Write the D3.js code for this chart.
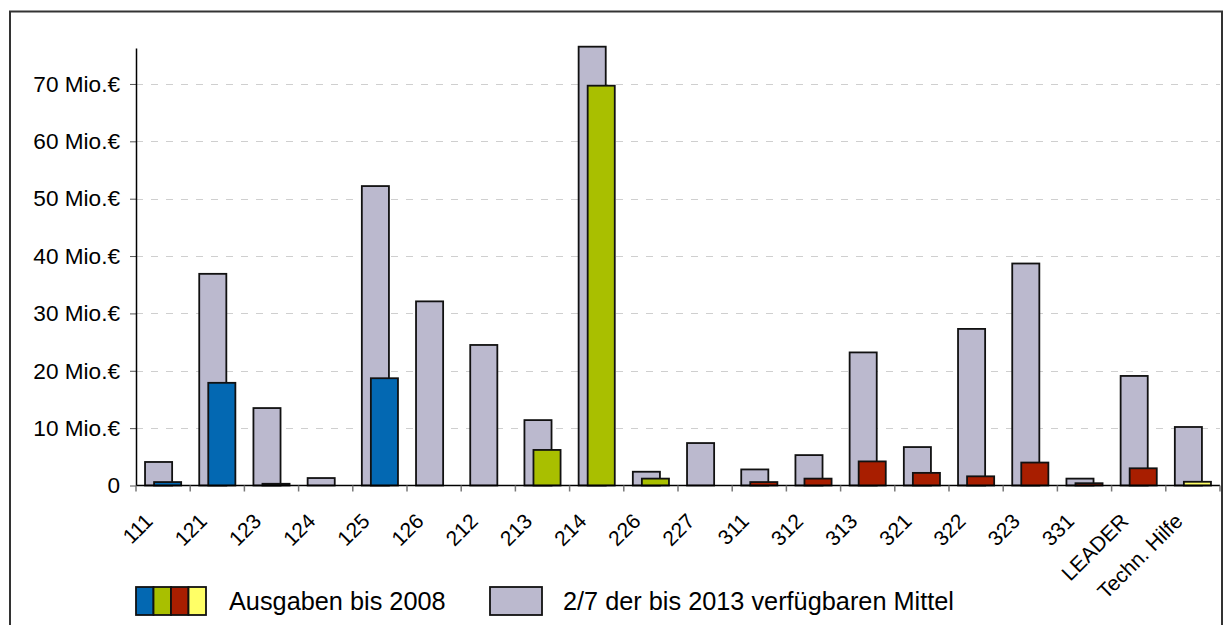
<!DOCTYPE html>
<html>
<head>
<meta charset="utf-8">
<script src="https://cdn.jsdelivr.net/npm/d3@7"></script>
<style>
  html, body { margin: 0; padding: 0; background: #fff; }
  svg { display: block; font-family: "Liberation Sans", Arial, sans-serif; }
</style>
</head>
<body>
<svg id="chart" width="1225" height="625"></svg>
<script>
// ---- data ----
const categories = ["111","121","123","124","125","126","212","213","214","226","227","311","312","313","321","322","323","331","LEADER","Techn. Hilfe"];
const available = [4.1, 36.9, 13.5, 1.3, 52.2, 32.1, 24.5, 11.4, 76.5, 2.4, 7.4, 2.8, 5.3, 23.2, 6.7, 27.3, 38.7, 1.2, 19.1, 10.2];
const spent     = [0.6, 17.9, 0.3, 0, 18.7, 0, 0, 6.2, 69.7, 1.2, 0, 0.6, 1.2, 4.2, 2.2, 1.6, 4.0, 0.4, 3.0, 0.65];
const axisGroup = [0,0,0,0,0,0,1,1,1,1,1,2,2,2,2,2,2,2,2,3];
const axisColors = ["#0368B2", "#A9BF00", "#A81E00", "#FFFF66"];
const yTicks = [0,10,20,30,40,50,60,70];
const yTickLabels = ["0","10 Mio.€","20 Mio.€","30 Mio.€","40 Mio.€","50 Mio.€","60 Mio.€","70 Mio.€"];
const legendLabels = ["Ausgaben bis 2008", "2/7 der bis 2013 verfügbaren Mittel"];
const greyColor = "#BBB9CE";

const svg = d3.select("#chart");

// outer frame
svg.append("rect").attr("x", 10).attr("y", 11.5).attr("width", 1212).attr("height", 640)
  .attr("fill", "none").attr("stroke", "#333").attr("stroke-width", 2);

const left = 136, right = 1220, bottom = 485.5;
const x = d3.scaleBand().domain(categories).range([left, right]).padding(0);
const y = d3.scaleLinear().domain([0, 76.2]).range([bottom, 48.4]);

// gridlines
svg.append("g").selectAll("line").data(yTicks.filter(d => d > 0)).join("line")
  .attr("x1", left).attr("x2", right)
  .attr("y1", d => Math.round(y(d)) + 0.5).attr("y2", d => Math.round(y(d)) + 0.5)
  .attr("stroke", "#cfcfcf").attr("stroke-width", 1).attr("stroke-dasharray", "7,8");

const bw = x.bandwidth();
const barW = bw / 2;

// grey bars
svg.append("g").selectAll("rect").data(categories).join("rect")
  .attr("x", (d) => x(d) + bw / 6)
  .attr("y", (d, i) => y(available[i]))
  .attr("width", barW)
  .attr("height", (d, i) => y(0) - y(available[i]))
  .attr("fill", greyColor).attr("stroke", "#111").attr("stroke-width", 1.8);

// coloured bars
svg.append("g").selectAll("rect").data(categories.filter((d, i) => spent[i] > 0)).join("rect")
  .attr("x", (d) => x(d) + bw / 3)
  .attr("y", (d) => y(spent[categories.indexOf(d)]))
  .attr("width", barW)
  .attr("height", (d) => y(0) - y(spent[categories.indexOf(d)]))
  .attr("fill", (d) => axisColors[axisGroup[categories.indexOf(d)]])
  .attr("stroke", "#111").attr("stroke-width", 1.8);

// y axis
const yAxis = d3.axisLeft(y).tickValues(yTicks).tickFormat((d, i) => yTickLabels[i]).tickSize(6).tickPadding(10);
const gy = svg.append("g").attr("transform", `translate(${left},0)`).call(yAxis);
gy.select(".domain").remove();
gy.selectAll(".tick line").attr("stroke", "#555");
gy.selectAll(".tick text").attr("font-size", 22.6).attr("fill", "#000")
  .attr("font-family", "'Liberation Sans', Arial, sans-serif");
svg.append("line").attr("x1", left + 0.5).attr("x2", left + 0.5)
  .attr("y1", y(76.2)).attr("y2", bottom).attr("stroke", "#000").attr("stroke-width", 1.5);

// x axis
svg.append("line").attr("x1", left).attr("x2", right).attr("y1", bottom).attr("y2", bottom)
  .attr("stroke", "#000").attr("stroke-width", 1.5);
const bounds = categories.map(d => x(d)).concat([right]);
svg.append("g").selectAll("line").data(bounds).join("line")
  .attr("x1", d => d).attr("x2", d => d).attr("y1", bottom).attr("y2", bottom + 6)
  .attr("stroke", "#777").attr("stroke-width", 1.5);

svg.append("g").selectAll("text").data(categories).join("text")
  .attr("transform", d => `translate(${x(d) + bw / 2 - 9},522.5) rotate(-45)`)
  .attr("text-anchor", "end")
  .attr("font-size", 21).attr("fill", "#000")
  .text(d => d);

// legend
const lg = svg.append("g");
axisColors.forEach((c, i) => {
  lg.append("rect").attr("x", 136 + i * 17.5).attr("y", 587).attr("width", 17.5).attr("height", 28)
    .attr("fill", c).attr("stroke", "#111").attr("stroke-width", 1.8);
});
lg.append("text").attr("x", 229).attr("y", 610).attr("font-size", 25.3).attr("fill", "#000").text(legendLabels[0]);
lg.append("rect").attr("x", 490).attr("y", 587).attr("width", 52).attr("height", 28)
  .attr("fill", greyColor).attr("stroke", "#111").attr("stroke-width", 1.8);
lg.append("text").attr("x", 563).attr("y", 610).attr("font-size", 25.3).attr("fill", "#000").text(legendLabels[1]);
</script>
</body>
</html>
